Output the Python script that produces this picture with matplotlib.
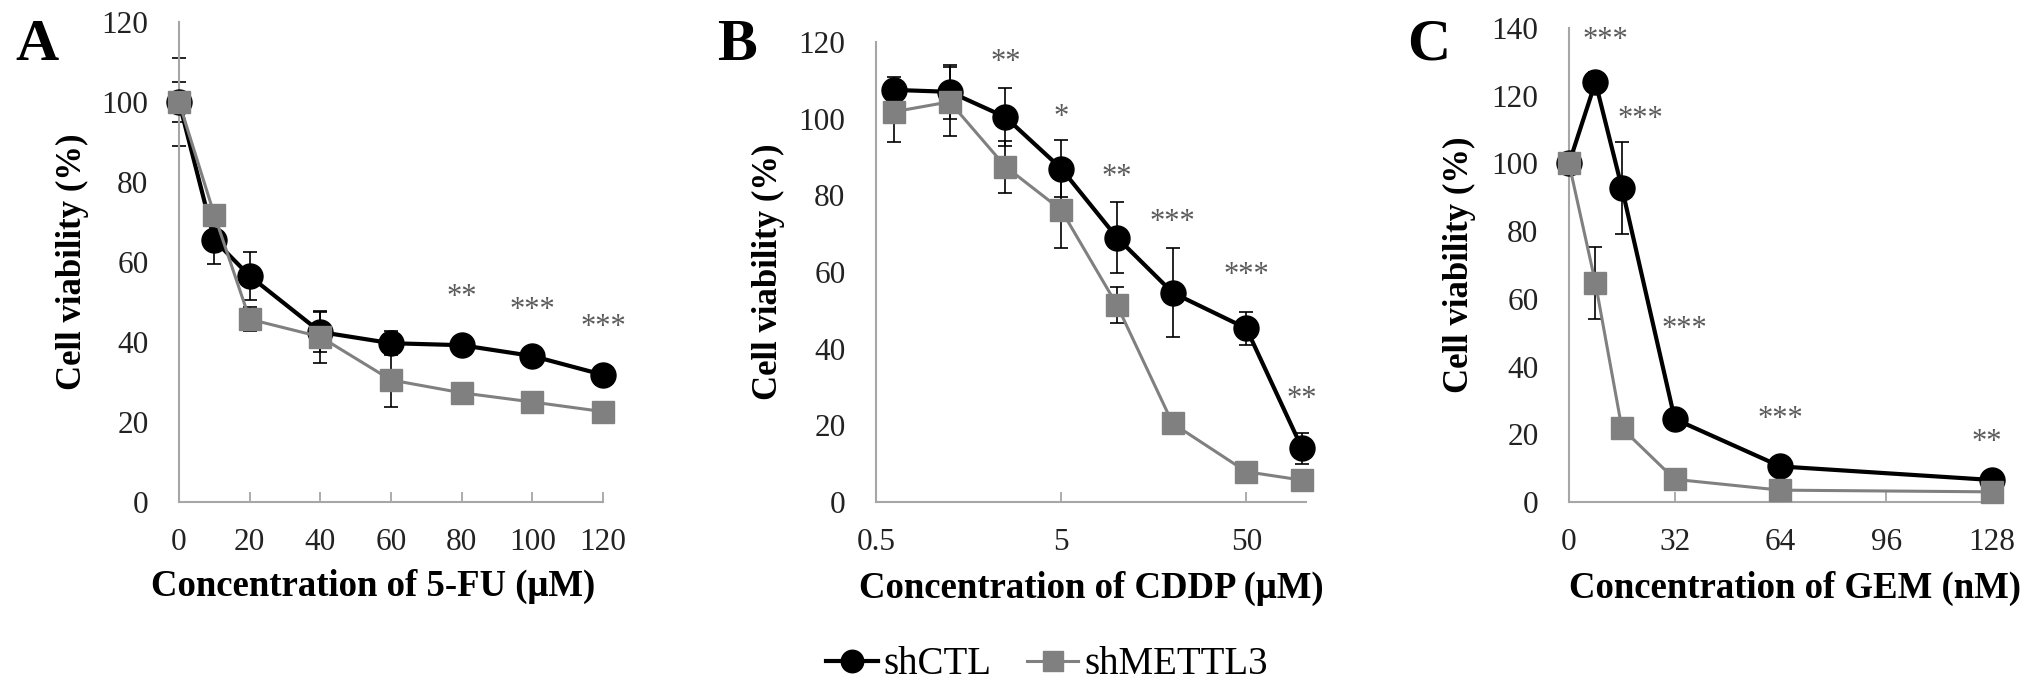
import matplotlib
matplotlib.use("Agg")
from matplotlib import pyplot as plt

plt.rcParams['font.family'] = ['Liberation Serif', 'DejaVu Serif']

# panel A: 5-FU (uM)
fu_conc = [0, 10, 20, 40, 60, 80, 100, 120]
fu_ctl = [100, 65.5, 56.5, 42.5, 39.7, 39.2, 36.5, 31.8]
fu_ctl_err = [5, 6, 6, 5, 3, 1.5, 1.5, 1.5]
fu_kd = [100, 71.8, 45.7, 41.3, 30.5, 27.3, 25, 22.6]
fu_kd_err = [11, 2, 3, 6.5, 6.7, 2, 1.5, 1]
fu_star_x = [80, 100, 120]
fu_star_y = [53, 49.7, 45.5]
fu_stars = ['**', '***', '***']

# panel B: CDDP (uM), log axis
cddp_conc = [0.625, 1.25, 2.5, 5, 10, 20, 50, 100]
cddp_ctl = [107.5, 107, 100.4, 87, 69, 54.6, 45.3, 14]
cddp_ctl_err = [3.5, 7, 7.5, 7.4, 9.3, 11.6, 4.3, 4]
cddp_kd = [101.8, 104.4, 87.5, 76.2, 51.4, 20.5, 7.9, 5.7]
cddp_kd_err = [8, 9, 6.8, 10, 4.7, 1.5, 1.5, 1.5]
cddp_star_x = [2.5, 5, 10, 20, 50, 100]
cddp_star_y = [116.6, 102.3, 86.6, 74.9, 61, 28.8]
cddp_stars = ['**', '*', '**', '***', '***', '**']

# panel C: GEM (nM)
gem_conc = [0, 8, 16, 32, 64, 128]
gem_ctl = [100, 124, 92.8, 24.5, 10.5, 6.5]
gem_ctl_err = [0, 3, 13.5, 2, 1.5, 1]
gem_kd = [100, 64.7, 21.8, 6.7, 3.5, 3]
gem_kd_err = [0, 10.6, 2, 1.5, 1, 1]
gem_star_x = [11, 21.5, 35, 64, 126.5]
gem_star_y = [138.6, 115.4, 53.3, 26.7, 19.8]
gem_stars = ['***', '***', '***', '***', '**']

BLACK = '#000000'
GREY = '#808080'
SPINE = '#a6a6a6'
TXT = '#222222'

W, H = 2031, 692
fig = plt.figure(figsize=(W / 100, H / 100), dpi=100)


def make_axes(left, right, top, bottom=502):
    return fig.add_axes([left / W, (H - bottom) / H, (right - left) / W, (bottom - top) / H])


def draw_panel(ax, x, ctl, ctl_err, kd, kd_err, star_x, star_y, stars):
    ax.errorbar(x, ctl, yerr=ctl_err, fmt='none', ecolor=BLACK, elinewidth=1.2,
                capsize=5, capthick=1.2, zorder=2, clip_on=False)
    ax.errorbar(x, kd, yerr=kd_err, fmt='none', ecolor=BLACK, elinewidth=1.2,
                capsize=5, capthick=1.2, zorder=2, clip_on=False)
    l1, = ax.plot(x, ctl, '-o', color=BLACK, lw=3, ms=18, label='shCTL',
                  zorder=3, clip_on=False)
    l2, = ax.plot(x, kd, '-s', color=GREY, mfc=GREY, mec=GREY, lw=2.2, ms=16.5,
                  label='shMETTL3', zorder=4, clip_on=False)
    for sx, sy, s in zip(star_x, star_y, stars):
        ax.annotate(s, (sx, sy), xytext=(0, -11), textcoords='offset points',
                    ha='center', va='baseline', fontsize=22, color='#5a5a5a')
    for side in ['top', 'right']:
        ax.spines[side].set_visible(False)
    for side in ['left', 'bottom']:
        ax.spines[side].set_color(SPINE)
        ax.spines[side].set_linewidth(1.5)
    ax.tick_params(axis='x', direction='in', length=7, width=1.3, color=SPINE,
                   labelsize=22.5, labelcolor=TXT, pad=19)
    ax.tick_params(axis='y', length=0, labelsize=22.5, labelcolor=TXT, pad=22)
    ax.set_ylabel('Cell viability (%)', fontsize=25, fontweight='bold', color=BLACK)
    return l1, l2


# A
axA = make_axes(179, 603, 22)
h1, h2 = draw_panel(axA, fu_conc, fu_ctl, fu_ctl_err, fu_kd, fu_kd_err,
                    fu_star_x, fu_star_y, fu_stars)
axA.set_xlim(0, 120)
axA.set_ylim(0, 120)
axA.set_xticks(range(0, 121, 20))
axA.set_yticks(range(0, 121, 20))
axA.set_xlabel('Concentration of 5-FU (μM)', fontsize=26.5, fontweight='bold')
axA.xaxis.set_label_coords(0.459, -0.14)
axA.yaxis.set_label_coords(-0.212, 0.5)

# B
axB = make_axes(876, 1306, 42)
draw_panel(axB, cddp_conc, cddp_ctl, cddp_ctl_err, cddp_kd, cddp_kd_err,
           cddp_star_x, cddp_star_y, cddp_stars)
axB.set_xscale('log')
axB.set_xlim(0.5, 105)
axB.set_ylim(0, 120)
axB.set_xticks([0.5, 5, 50])
axB.set_xticklabels(['0.5', '5', '50'])
axB.xaxis.set_minor_locator(matplotlib.ticker.NullLocator())
axB.set_yticks(range(0, 121, 20))
axB.set_xlabel('Concentration of CDDP (μM)', fontsize=26.5, fontweight='bold')
axB.xaxis.set_label_coords(0.5, -0.15)
axB.yaxis.set_label_coords(-0.212, 0.5)

# C
axC = make_axes(1569, 1992, 28)
draw_panel(axC, gem_conc, gem_ctl, gem_ctl_err, gem_kd, gem_kd_err,
           gem_star_x, gem_star_y, gem_stars)
axC.set_xlim(0, 128)
axC.set_ylim(0, 140)
axC.set_xticks(range(0, 129, 32))
axC.set_yticks(range(0, 141, 20))
axC.set_xlabel('Concentration of GEM (nM)', fontsize=26.5, fontweight='bold')
axC.xaxis.set_label_coords(0.535, -0.146)
axC.yaxis.set_label_coords(-0.219, 0.5)

# panel letters
for letter, lx in zip(['A', 'B', 'C'], [15, 717, 1407]):
    fig.text(lx / W, 1 - 60 / H, letter, fontsize=43, fontweight='bold', va='baseline')

fig.legend([h1, h2], ['shCTL', 'shMETTL3'], loc='center',
           bbox_to_anchor=(1047 / W, 27 / H), ncol=2, frameon=False, fontsize=28,
           handlelength=1.33, handletextpad=0.15, columnspacing=0.9, markerscale=0.9)

fig.savefig('out.png', dpi=100)
